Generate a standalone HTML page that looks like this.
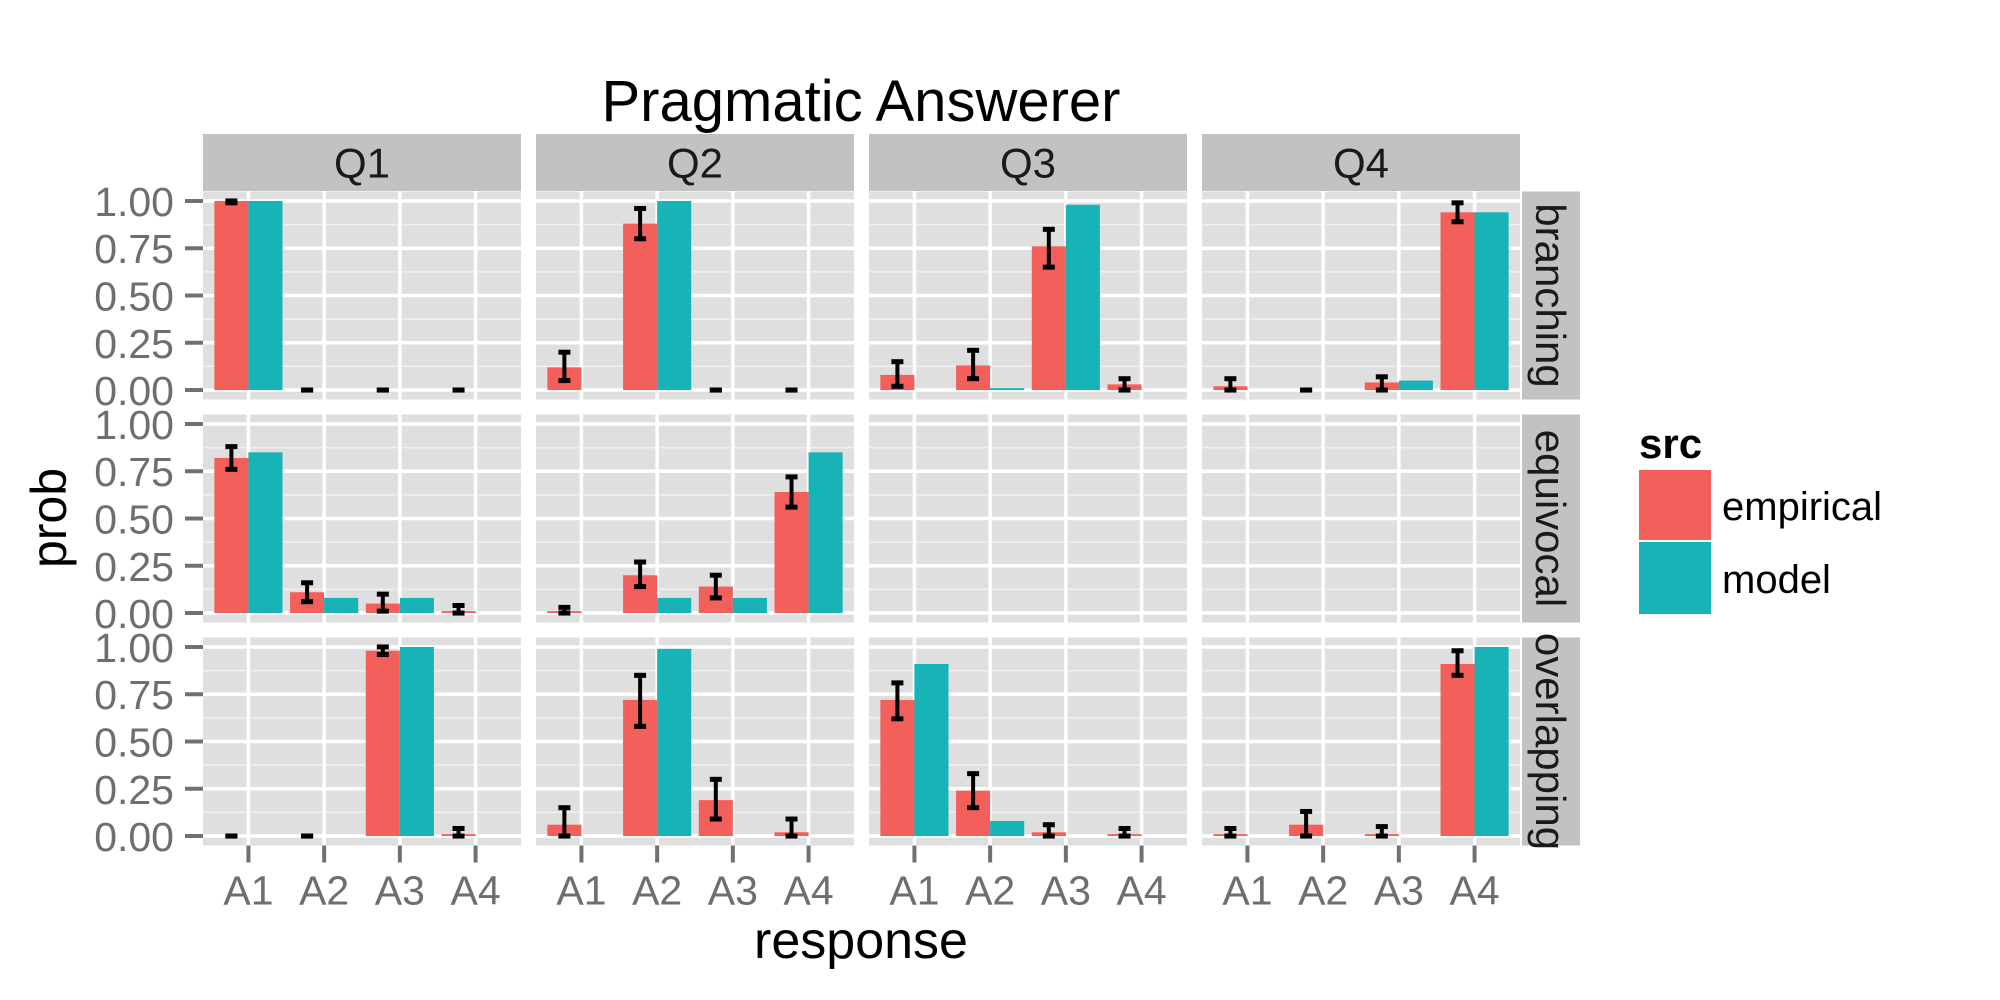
<!DOCTYPE html>
<html><head><meta charset="utf-8"><style>
html,body{margin:0;padding:0;background:#fff;}
svg{display:block;font-family:"Liberation Sans",Arial,sans-serif;}
</style></head><body>
<svg id="chart" width="2000" height="1000" viewBox="0 0 2000 1000"></svg>
<script>
const categories = ["A1","A2","A3","A4"];
const colFacets = ["Q1","Q2","Q3","Q4"];
const rowFacets = ["branching","equivocal","overlapping"];
const yTicks = [0,0.25,0.5,0.75,1];
const yTickLabels = ["0.00","0.25","0.50","0.75","1.00"];
// empirical[row][col] = values per category
const empirical = [
  [[1.00,0,0,0],[0.12,0.88,0,0],[0.08,0.13,0.76,0.03],[0.02,0,0.04,0.94]],
  [[0.82,0.11,0.05,0.01],[0.01,0.20,0.14,0.64],null,null],
  [[0,0,0.98,0.01],[0.06,0.72,0.19,0.02],[0.72,0.24,0.02,0.01],[0.01,0.06,0.01,0.91]]
];
const errLow = [
  [[0.99,0,0,0],[0.05,0.80,0,0],[0.02,0.06,0.65,0],[0,0,0,0.89]],
  [[0.76,0.06,0.01,0],[0,0.14,0.08,0.56],null,null],
  [[0,0,0.96,0],[0,0.58,0.09,0],[0.62,0.15,0,0],[0,0,0,0.85]]
];
const errHigh = [
  [[1.00,0,0,0],[0.20,0.96,0,0],[0.15,0.21,0.85,0.06],[0.06,0,0.07,0.99]],
  [[0.88,0.16,0.10,0.04],[0.03,0.27,0.20,0.72],null,null],
  [[0,0,1.00,0.04],[0.15,0.85,0.30,0.09],[0.81,0.33,0.06,0.04],[0.04,0.13,0.05,0.98]]
];
const model = [
  [[1,0,0,0],[0,1,0,0],[0,0.01,0.98,0],[0,0,0.05,0.94]],
  [[0.85,0.08,0.08,0],[0,0.08,0.08,0.85],null,null],
  [[0,0,1,0],[0,0.99,0,0],[0.91,0.08,0,0],[0,0,0,1]]
];

const NS="http://www.w3.org/2000/svg";
const svg=document.getElementById('chart');
function mk(tag,attrs,parent){const e=document.createElementNS(NS,tag);for(const k in attrs)e.setAttribute(k,attrs[k]);(parent||svg).appendChild(e);return e;}
const RED="#F35F5A",TEAL="#18B3B7";
const panelLeft=203,panelW=318,gapX=15;
const panelTop0=191.5,panelH=208,gapY=15;
const stripH=57,stripTop=134;
const ymin=-0.05,ymax=1.05;
function px(c){return panelLeft+c*(panelW+gapX);}
function py(r){return panelTop0+r*(panelH+gapY);}
function xScale(c,i){return px(c)+(i+0.6)*panelW/4.2;}
function yScale(r,v){return py(r)+panelH*(ymax-v)/(ymax-ymin);}
const step=panelW/4.2, barW=step*0.45;

let t=mk('text',{x:861,y:121,'text-anchor':'middle','font-size':58,fill:'#000'});
t.textContent="Pragmatic Answerer";



colFacets.forEach((q,c)=>{
  const g=mk('g',{});
  
  
  mk('rect',{x:px(c),y:stripTop,width:panelW,height:stripH,fill:'#c2c2c2'},g);
  const tx=mk('text',{x:px(c)+panelW/2,y:stripTop+stripH/2+15,'text-anchor':'middle','font-size':42,fill:'#1a1a1a'},g);
  tx.textContent=q;
});
rowFacets.forEach((name,r)=>{
  const g=mk('g',{});
  
  
  const x0=1522,w=58;
  mk('rect',{x:x0,y:py(r),width:w,height:panelH,fill:'#c2c2c2'},g);
  const cx=x0+w/2-15, cy=py(r)+panelH/2;
  const tx=mk('text',{x:cx,y:cy,'text-anchor':'middle','font-size':42,fill:'#1a1a1a',transform:`rotate(90 ${cx} ${cy})`},g);
  tx.textContent=name;
});

for(let r=0;r<3;r++){
  for(let c=0;c<4;c++){
    const g=mk('g',{});
    
    
    mk('rect',{x:px(c),y:py(r),width:panelW,height:panelH,fill:'#dfdfdf'},g);
    [0.125,0.375,0.625,0.875].forEach(v=>{
      const y=yScale(r,v);
      mk('line',{x1:px(c),x2:px(c)+panelW,y1:y,y2:y,stroke:'#f0f0f0','stroke-width':1.5},g);
    });
    yTicks.forEach(v=>{
      const y=yScale(r,v);
      mk('line',{x1:px(c),x2:px(c)+panelW,y1:y,y2:y,stroke:'#fff','stroke-width':3.5},g);
    });
    categories.forEach((cat,i)=>{
      const x=xScale(c,i);
      mk('line',{x1:x,x2:x,y1:py(r),y2:py(r)+panelH,stroke:'#fff','stroke-width':3.5},g);
    });
    const emp=empirical[r][c], mod=model[r][c];
    if(emp){
      categories.forEach((cat,i)=>{
        const xc=xScale(c,i), y0=yScale(r,0);
        const ye=yScale(r,emp[i]);
        const b1=mk('rect',{x:xc-barW,y:ye,width:barW,height:Math.max(0,y0-ye),fill:RED},g);
        
        
        const ym=yScale(r,mod[i]);
        const b2=mk('rect',{x:xc,y:ym,width:barW,height:Math.max(0,y0-ym),fill:TEAL},g);
        
        
      });
      categories.forEach((cat,i)=>{
        const ex=xScale(c,i)-barW/2;
        const yl=yScale(r,errLow[r][c][i]), yh=yScale(r,errHigh[r][c][i]);
        const eg=mk('g',{stroke:'#000','stroke-width':4},g);
        
        
        mk('line',{x1:ex,x2:ex,y1:yl,y2:yh},eg);
        mk('line',{x1:ex-6,x2:ex+6,y1:yl,y2:yl,'stroke-width':5},eg);
        mk('line',{x1:ex-6,x2:ex+6,y1:yh,y2:yh,'stroke-width':5},eg);
      });
    }
  }
  const ag=mk('g',{});
  
  
  yTicks.forEach((v,k)=>{
    const y=yScale(r,v);
    mk('line',{x1:185,x2:203,y1:y,y2:y,stroke:'#707070','stroke-width':4},ag);
    const tx=mk('text',{x:174,y:y+15,'text-anchor':'end','font-size':41,fill:'#6e6e6e'},ag);
    tx.textContent=yTickLabels[k];
  });
}
colFacets.forEach((q,c)=>{
  const ag=mk('g',{});
  
  
  const yb=py(2)+panelH;
  categories.forEach((cat,i)=>{
    const x=xScale(c,i);
    mk('line',{x1:x,x2:x,y1:yb,y2:yb+17,stroke:'#707070','stroke-width':4},ag);
    const tx=mk('text',{x:x,y:yb+59,'text-anchor':'middle','font-size':41,fill:'#6e6e6e'},ag);
    tx.textContent=cat;
  });
});
t=mk('text',{x:861,y:958,'text-anchor':'middle','font-size':52,fill:'#000'});
t.textContent="response";


t=mk('text',{x:0,y:0,'text-anchor':'middle','font-size':50,fill:'#000',transform:'translate(66 518) rotate(-90)'});
t.textContent="prob";


const lg=mk('g',{});


t=mk('text',{x:1639,y:458,'font-size':42,'font-weight':'bold',fill:'#000'},lg);
t.textContent="src";
const le1=mk('g',{},lg);


mk('rect',{x:1639,y:470,width:72,height:70,fill:RED},le1);
t=mk('text',{x:1722,y:520,'font-size':40,fill:'#000'},le1);
t.textContent="empirical";
const le2=mk('g',{},lg);


mk('rect',{x:1639,y:542,width:72,height:72,fill:TEAL},le2);
t=mk('text',{x:1722,y:593,'font-size':40,fill:'#000'},le2);
t.textContent="model";
</script>
</body></html>
